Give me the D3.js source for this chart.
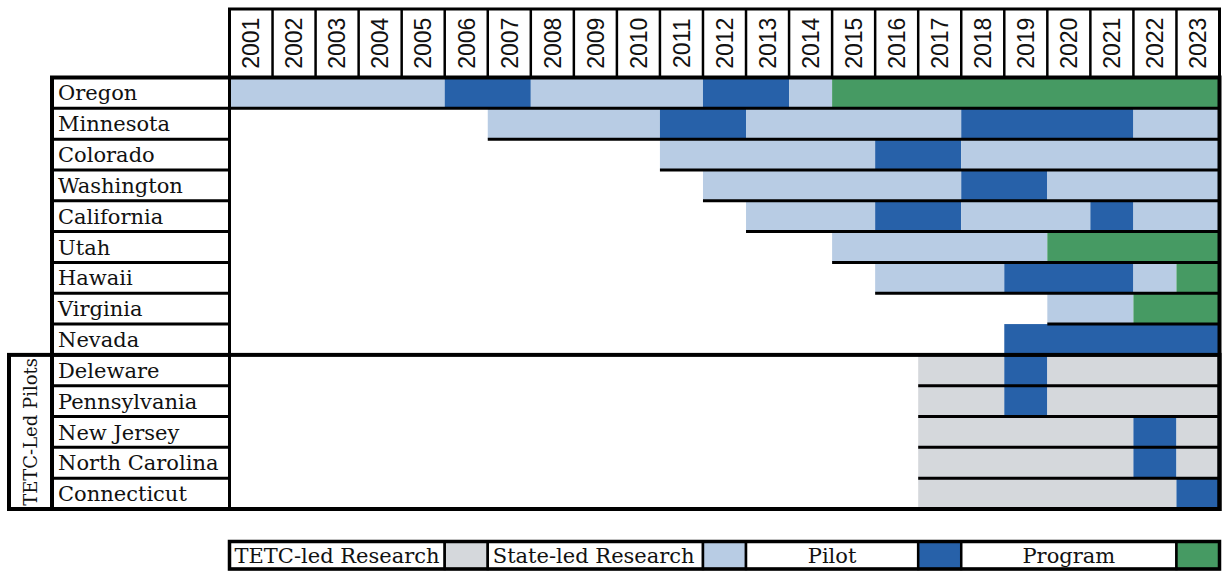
<!DOCTYPE html>
<html>
<head>
<meta charset="utf-8">
<script src="https://cdn.jsdelivr.net/npm/d3@7"></script>
<style>
	body { margin: 0; background: #fff; }
	svg { display: block; }
	.serif { font-family: "DejaVu Serif", Georgia, serif; fill: #111; }
	.year text { font-family: "Liberation Sans", Arial, sans-serif; font-size: 23px; fill: #111; }
</style>
</head>
<body>
<svg id="chart" width="1225" height="571"></svg>
<script>

var years = ["2001", "2002", "2003", "2004", "2005", "2006", "2007", "2008",
	"2009", "2010", "2011", "2012", "2013", "2014", "2015", "2016", "2017",
	"2018", "2019", "2020", "2021", "2022", "2023"];

var states = ["Oregon", "Minnesota", "Colorado", "Washington", "California",
	"Utah", "Hawaii", "Virginia", "Nevada", "Deleware", "Pennsylvania",
	"New Jersey", "North Carolina", "Connecticut"];

// first state of the TETC-led group
var groupStart = "Deleware";
var groupLabel = "TETC-Led Pilots";

// phases per state: [status, first year, last year]
var phases = [
	[["state", "2001", "2005"], ["pilot", "2006", "2007"], ["state", "2008", "2011"],
		["pilot", "2012", "2013"], ["state", "2014", "2014"], ["program", "2015", "2023"]],
	[["state", "2007", "2010"], ["pilot", "2011", "2012"], ["state", "2013", "2017"],
		["pilot", "2018", "2021"], ["state", "2022", "2023"]],
	[["state", "2011", "2015"], ["pilot", "2016", "2017"], ["state", "2018", "2023"]],
	[["state", "2012", "2017"], ["pilot", "2018", "2019"], ["state", "2020", "2023"]],
	[["state", "2013", "2015"], ["pilot", "2016", "2017"], ["state", "2018", "2020"],
		["pilot", "2021", "2021"], ["state", "2022", "2023"]],
	[["state", "2015", "2019"], ["program", "2020", "2023"]],
	[["state", "2016", "2018"], ["pilot", "2019", "2021"], ["state", "2022", "2022"],
		["program", "2023", "2023"]],
	[["state", "2020", "2021"], ["program", "2022", "2023"]],
	[["pilot", "2019", "2023"]],
	[["tetc", "2017", "2018"], ["pilot", "2019", "2019"], ["tetc", "2020", "2023"]],
	[["tetc", "2017", "2018"], ["pilot", "2019", "2019"], ["tetc", "2020", "2023"]],
	[["tetc", "2017", "2021"], ["pilot", "2022", "2022"], ["tetc", "2023", "2023"]],
	[["tetc", "2017", "2021"], ["pilot", "2022", "2022"], ["tetc", "2023", "2023"]],
	[["tetc", "2017", "2022"], ["pilot", "2023", "2023"]]
];

var statusKeys = ["tetc", "state", "pilot", "program"];
var statusNames = ["TETC-led Research", "State-led Research", "Pilot", "Program"];
var statusColors = ["#d5d8dc", "#b8cce4", "#2761a9", "#469a63"];

var svg = d3.select("#chart");

var left = 52, labelRight = 229.5, right = 1219.5;
var headY0 = 9, headY1 = 77.5, bottom = 509;

var x = d3.scaleBand().domain(years).range([labelRight, right]);
var y = d3.scaleBand().domain(states).range([headY1, bottom]);
var color = d3.scaleOrdinal().domain(statusKeys).range(statusColors);
var bw = x.bandwidth(), bh = y.bandwidth();

// bars
var rows = svg.append("g").attr("class", "bars");
states.forEach(function(s, i) {
	rows.selectAll(null)
		.data(phases[i])
		.join("rect")
		.attr("x", function(d) { return x(d[1]); })
		.attr("width", function(d) { return x(d[2]) + bw - x(d[1]); })
		.attr("y", y(s))
		.attr("height", bh)
		.attr("fill", function(d) { return color(d[0]); });
});

// row rules: start where each state's row starts
var lines = svg.append("g").attr("stroke", "#000");
states.forEach(function(s, i) {
	if (i === states.length - 1) return;
	var yy = y(s) + bh;
	lines.append("line")
		.attr("x1", left).attr("x2", labelRight)
		.attr("y1", yy).attr("y2", yy)
		.attr("stroke-width", 3);
	lines.append("line")
		.attr("x1", x(phases[i][0][1])).attr("x2", right)
		.attr("y1", yy).attr("y2", yy)
		.attr("stroke-width", 3);
});

// header with the year axis
var headH = headY1 - headY0;
var yearAxis = d3.axisTop(x).tickSize(0);
var head = svg.append("g")
	.attr("class", "year")
	.attr("transform", "translate(0," + headY1 + ")")
	.call(yearAxis);
head.select(".domain").remove();
head.selectAll(".tick text")
	.attr("transform", "translate(0," + (-headH / 2) + ") rotate(-90)")
	.attr("x", 0).attr("y", 0).attr("dy", "0.36em")
	.attr("text-anchor", "middle");
head.selectAll(".tick").append("line")
	.attr("x1", bw / 2).attr("x2", bw / 2)
	.attr("y1", 0).attr("y2", -headH)
	.attr("stroke", "#000").attr("stroke-width", 2.5);
svg.append("rect")
	.attr("x", labelRight).attr("y", headY0)
	.attr("width", right - labelRight).attr("height", headH)
	.attr("fill", "none").attr("stroke", "#000").attr("stroke-width", 3);

// state labels
var stateAxis = d3.axisLeft(y).tickSize(0);
var lab = svg.append("g")
	.attr("class", "serif")
	.attr("transform", "translate(" + left + ",0)")
	.call(stateAxis);
lab.select(".domain").remove();
lab.selectAll(".tick text")
	.attr("text-anchor", "start")
	.attr("x", 6).attr("dy", "0.36em")
	.attr("font-size", 21)
	.attr("font-family", "DejaVu Serif, Georgia, serif")
	.attr("fill", "#111");

// outer frames
svg.append("rect")
	.attr("x", left).attr("y", headY1)
	.attr("width", right - left).attr("height", bottom - headY1)
	.attr("fill", "none").attr("stroke", "#000").attr("stroke-width", 4);
svg.append("line")
	.attr("x1", labelRight).attr("x2", labelRight)
	.attr("y1", headY1).attr("y2", bottom)
	.attr("stroke", "#000").attr("stroke-width", 3);

// group box for the TETC-led pilots
var gy = y(groupStart);
svg.append("rect")
	.attr("x", 9).attr("y", gy)
	.attr("width", right - 9).attr("height", bottom - gy)
	.attr("fill", "none").attr("stroke", "#000").attr("stroke-width", 4);
svg.append("text")
	.attr("class", "serif")
	.attr("transform", "translate(" + ((9 + left) / 2) + "," + ((gy + bottom) / 2) + ") rotate(-90)")
	.attr("text-anchor", "middle").attr("dy", "0.36em")
	.attr("font-size", 18)
	.text(groupLabel);

// legend: text cell then one-column swatch
var legTop = 541.5, legH = 27.5;
var spans = [5, 5, 4, 5];
var leg = svg.append("g").attr("class", "legend");
var col = 0;
statusKeys.forEach(function(k, i) {
	var x0 = x(years[col]);
	var x1 = x(years[col + spans[i]]);
	leg.append("rect")
		.attr("x", x0).attr("y", legTop).attr("width", x1 - x0).attr("height", legH)
		.attr("fill", "#fff").attr("stroke", "#000").attr("stroke-width", 2.5);
	leg.append("rect")
		.attr("x", x1).attr("y", legTop).attr("width", bw).attr("height", legH)
		.attr("fill", color(k)).attr("stroke", "#000").attr("stroke-width", 2.5);
	var centred = i >= 2;
	leg.append("text")
		.attr("class", "serif")
		.attr("x", centred ? (x0 + x1) / 2 : x0 + 5)
		.attr("y", legTop + legH / 2)
		.attr("dy", "0.36em")
		.attr("text-anchor", centred ? "middle" : "start")
		.attr("font-size", 21)
		.text(statusNames[i]);
	col += spans[i] + 1;
});
leg.append("rect")
	.attr("x", labelRight).attr("y", legTop)
	.attr("width", right - labelRight).attr("height", legH)
	.attr("fill", "none").attr("stroke", "#000").attr("stroke-width", 3.5);

</script>
</body>
</html>
